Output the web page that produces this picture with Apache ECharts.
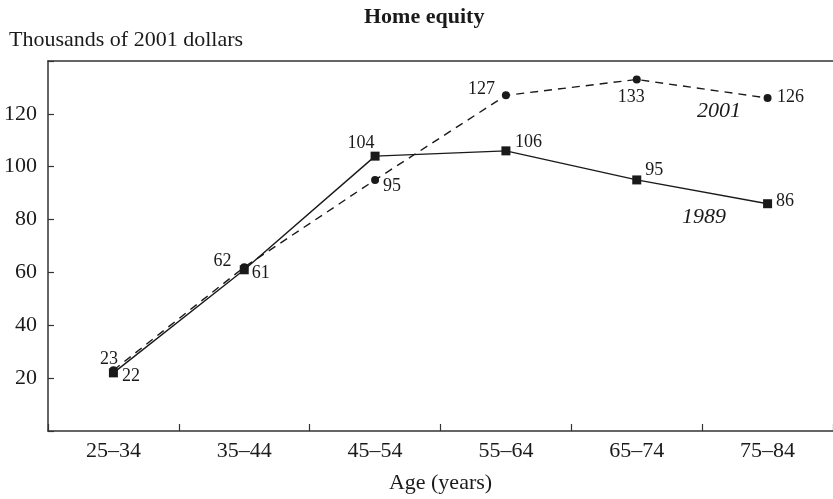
<!DOCTYPE html>
<html>
<head>
<meta charset="utf-8">
<script src="https://cdn.jsdelivr.net/npm/echarts@6/dist/echarts.min.js"></script>
<style>html,body{margin:0;padding:0;background:#fff;}#c{width:833px;height:499px;}</style>
</head>
<body>
<div id="c"></div>
<script>
const categories = ['25–34', '35–44', '45–54', '55–64', '65–74', '75–84'];
const equity1989 = [22, 61, 104, 106, 95, 86];
const equity2001 = [23, 62, 95, 127, 133, 126];
const yTickLabels = [20, 40, 60, 80, 100, 120];

// label offsets (styling only) relative to each point
const off1989 = [[17.5, 3.5], [16.5, 3], [-14, -12.7], [22.5, -8.4], [17.5, -9.6], [17.5, -2.5]];
const off2001 = [[-4.5, -11], [-21.8, -5.8], [17, 6.4], [-24.3, -5.9], [-5.5, 17.4], [23, -1.2]];

const FONT = 'Liberation Serif';
const INK = '#1a1a1a';

function withLabels(values, offs) {
  return values.map((v, i) => ({
    value: v,
    label: { show: true, position: 'inside', offset: offs[i], formatter: String(v) }
  }));
}

const chart = echarts.init(document.getElementById('c'), null, { renderer: 'canvas' });
chart.setOption({
  animation: false,
  backgroundColor: '#fff',
  textStyle: { fontFamily: FONT, color: INK },
  title: [
    { text: 'Home equity', left: 359, top: 1,
      textStyle: { fontFamily: FONT, fontSize: 22, fontWeight: 'bold', color: INK } },
    { text: 'Thousands of 2001 dollars', left: 4, top: 24,
      textStyle: { fontFamily: FONT, fontSize: 22, fontWeight: 'normal', color: INK } }
  ],
  grid: { left: 48, right: -4, top: 61, bottom: 66, containLabel: false },
  xAxis: [{
    type: 'category', data: categories, boundaryGap: true, position: 'bottom',
    axisLine: { lineStyle: { color: '#333', width: 1.5 } },
    axisTick: { show: true, inside: true, length: 7, lineStyle: { color: '#333', width: 1.2 } },
    axisLabel: { fontFamily: FONT, fontSize: 22, color: INK, margin: 9 },
    name: 'Age (years)', nameLocation: 'middle', nameGap: 41,
    nameTextStyle: { fontFamily: FONT, fontSize: 22, color: INK }
  }, {
    type: 'category', data: categories, position: 'top',
    axisLine: { show: true, lineStyle: { color: '#333', width: 1.5 } },
    axisTick: { show: false }, axisLabel: { show: false }
  }],
  yAxis: {
    type: 'value', min: 0, max: 140, interval: 20,
    axisLine: { show: true, lineStyle: { color: '#333', width: 1.5 } },
    axisTick: { show: true, inside: true, length: 6, lineStyle: { color: '#333', width: 1.2 } },
    splitLine: { show: false },
    axisLabel: {
      fontFamily: FONT, fontSize: 22, color: INK, margin: 11,
      formatter: v => (yTickLabels.indexOf(v) >= 0 ? String(v) : '')
    }
  },
  series: [{
    name: '2001', type: 'line', z: 2,
    data: withLabels(equity2001, off2001),
    symbol: 'circle', symbolSize: 8,
    itemStyle: { color: INK },
    lineStyle: { color: INK, width: 1.4, type: [8, 6] },
    label: { fontFamily: FONT, fontSize: 18, color: INK, align: 'center', verticalAlign: 'middle' }
  }, {
    name: '1989', type: 'line', z: 3,
    data: withLabels(equity1989, off1989),
    symbol: 'rect', symbolSize: 9,
    itemStyle: { color: INK },
    lineStyle: { color: INK, width: 1.4, type: 'solid' },
    label: { fontFamily: FONT, fontSize: 18, color: INK, align: 'center', verticalAlign: 'middle' }
  }],
  graphic: [
    { type: 'text', left: 697, top: 100,
      style: { text: '2001', font: 'italic 22px "Liberation Serif"', fill: INK } },
    { type: 'text', left: 682, top: 206,
      style: { text: '1989', font: 'italic 22px "Liberation Serif"', fill: INK } }
  ]
});
</script>
</body>
</html>
